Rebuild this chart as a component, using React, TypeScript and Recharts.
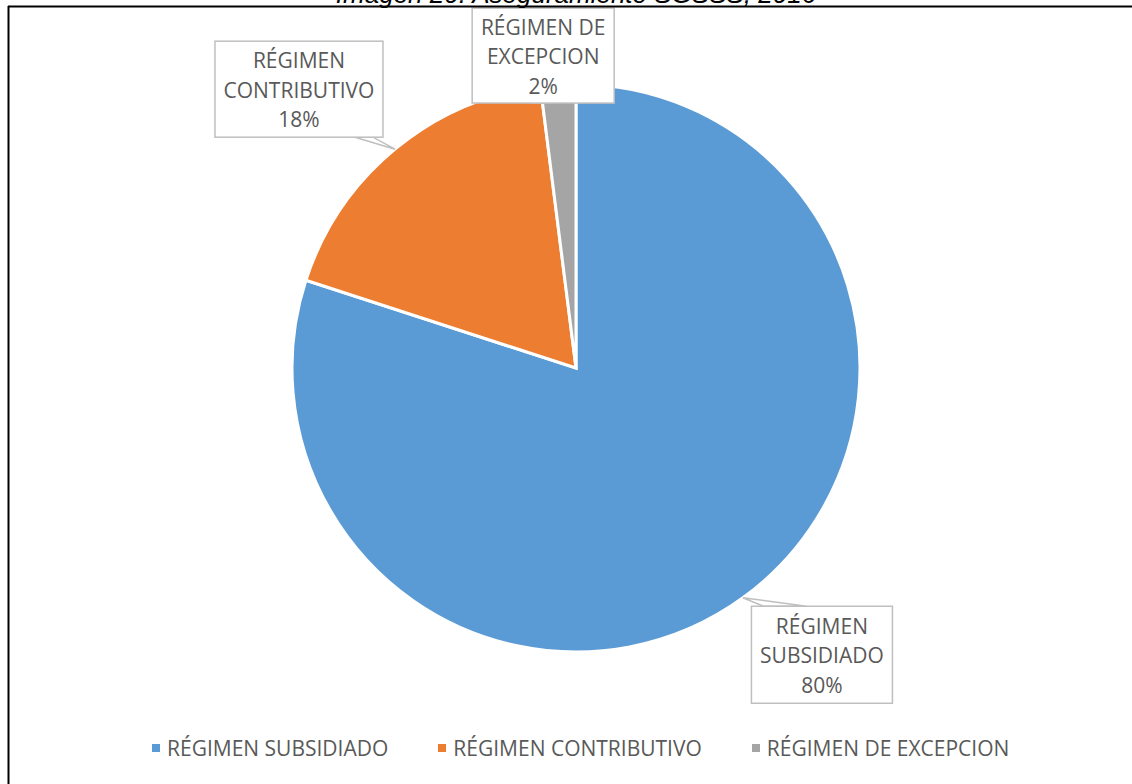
import { PieChart, Pie, Cell, Legend } from 'recharts'

const categories = ['RÉGIMEN SUBSIDIADO', 'RÉGIMEN CONTRIBUTIVO', 'RÉGIMEN DE EXCEPCION']
const shares = [80, 18, 2]
const colors = ['#5B9BD5', '#ED7D31', '#A5A5A5']
const title = 'Imagen 20. Aseguramiento SGSSS, 2016'

const data = categories.map((name, i) => ({ name, value: shares[i] }))

// callout boxes: box centre offset from the slice edge point, box size, wedge base along the box edge
const callouts = [
  { dx: 79, dy: 57, w: 141, h: 97, side: 'top', base: [12, 55] },
  { dx: -96, dy: -60, w: 168, h: 96, side: 'bottom', base: [140, 158] },
  { dx: -15, dy: -29, w: 142, h: 95, side: 'bottom', base: [60, 80] },
]

const RAD = Math.PI / 180
const textColor = '#595959'
const borderColor = '#BFBFBF'
const font = "'Open Sans', sans-serif"

const renderCallout = (props: any) => {
  const { cx, cy, midAngle, outerRadius, index, percent, name } = props
  const ex = cx + outerRadius * Math.cos(-midAngle * RAD)
  const ey = cy + outerRadius * Math.sin(-midAngle * RAD)
  const c = callouts[index]
  const left = ex + c.dx - c.w / 2
  const top = ey + c.dy - c.h / 2
  const baseY = c.side === 'top' ? top : top + c.h
  const words = String(name).split(' ')
  const lines = [words.slice(0, -1).join(' '), words[words.length - 1], `${Math.round(percent * 100)}%`]
  const midY = top + c.h / 2
  return (
    <g>
      <polygon
        points={`${ex},${ey} ${left + c.base[0]},${baseY} ${left + c.base[1]},${baseY}`}
        fill="#fff"
        stroke={borderColor}
        strokeWidth={1.5}
      />
      <rect x={left} y={top} width={c.w} height={c.h} fill="#fff" stroke={borderColor} strokeWidth={1.5} />
      {lines.map((t, i) => (
        <text
          key={i}
          x={left + c.w / 2}
          y={midY - 21 + i * 29.5}
          textAnchor="middle"
          fill={textColor}
          fontSize={21}
          fontFamily={font}
        >
          {t}
        </text>
      ))}
    </g>
  )
}

const renderLegend = () => (
  <div style={{ display: 'flex', alignItems: 'center', fontFamily: font, fontSize: 21, color: textColor }}>
    {categories.map((name, i) => (
      <div key={name} style={{ display: 'flex', alignItems: 'center', marginRight: 50, whiteSpace: 'nowrap' }}>
        <span style={{ display: 'inline-block', width: 8, height: 8, background: colors[i], marginRight: 7 }} />
        <span>{name}</span>
      </div>
    ))}
  </div>
)

export default function App() {
  return (
    <div
      style={{
        position: 'absolute',
        left: 0,
        top: 0,
        width: 1132,
        height: 784,
        background: '#fff',
        overflow: 'hidden',
      }}
    >
      <PieChart width={1132} height={784} margin={{ top: 0, right: 0, bottom: 0, left: 0 }}>
        <Pie
          data={data}
          dataKey="value"
          nameKey="name"
          cx={576}
          cy={368}
          outerRadius={284}
          startAngle={90}
          endAngle={-270}
          stroke="#fff"
          strokeWidth={3}
          label={renderCallout}
          labelLine={false}
          isAnimationActive={false}
        >
          {data.map((entry, index) => (
            <Cell key={`cell-${index}`} fill={colors[index]} />
          ))}
        </Pie>
        <Legend
          content={renderLegend}
          wrapperStyle={{ position: 'absolute', top: 734, left: 152, width: 'auto', height: 'auto' }}
        />
      </PieChart>
      {/* page frame and the cut title above it */}
      <svg
        width={1132}
        height={784}
        style={{ position: 'absolute', left: 0, top: 0, pointerEvents: 'none' }}
      >
        <text
          x={576}
          y={3}
          textAnchor="middle"
          fontFamily="'Liberation Sans', Arial, sans-serif"
          fontStyle="italic"
          fontSize={26}
          fill="#000"
        >
          {title}
        </text>
        <line x1={8} y1={6.5} x2={1132} y2={6.5} stroke="#000" strokeWidth={2} />
        <line x1={8.5} y1={6} x2={8.5} y2={784} stroke="#000" strokeWidth={2} />
      </svg>
    </div>
  )
}
